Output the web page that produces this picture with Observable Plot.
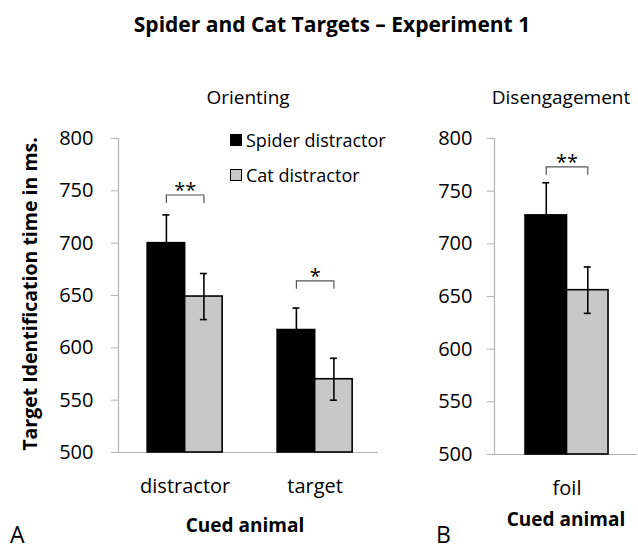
<!DOCTYPE html>
<html><head><meta charset="utf-8">
<script src="https://cdn.jsdelivr.net/npm/d3@7"></script>
<script src="https://cdn.jsdelivr.net/npm/@observablehq/plot@0.6"></script>
<style>
body{margin:0;background:#fff;}
#chart{position:relative;width:638px;height:551px;font-family:"Open Sans",sans-serif;color:#000;overflow:hidden;background:#fff;}
.t{position:absolute;white-space:nowrap;line-height:1;}
.p{position:absolute;}
.sw{position:absolute;width:10px;height:10px;border:1px solid #000;}
</style></head><body><div id="chart"></div>
<script>
// ---- data ----
const yTicks = [500, 550, 600, 650, 700, 750, 800];
const seriesNames = ["Spider distractor", "Cat distractor"];

const orientCues = ["distractor", "target"];
const orientSpider = [700, 617];
const orientSpiderSE = [27, 21];
const orientCat = [649, 570];
const orientCatSE = [22, 20];
const orientStars = ["**", "*"];
const orientBracket = [746, 664];
const orientBracketTip = [738, 656];

const disCues = ["foil"];
const disSpider = [727];
const disSpiderSE = [31];
const disCat = [656];
const disCatSE = [22];
const disStars = ["**"];
const disBracket = [773];
const disBracketTip = [765];

// ---- drawing ----
const axisGray = "#b4b4b4";
const chart = document.getElementById("chart");

function panel(o) {
  const rows = o.cues.map((c, i) => ({
    cue: c, spider: o.spider[i], spiderSE: o.spiderSE[i], cat: o.cat[i], catSE: o.catSE[i],
    stars: o.stars[i], bracket: o.bracket[i], tip: o.tip[i]
  }));
  const xOpts = {type: "band", domain: o.cues, paddingInner: o.pi, paddingOuter: o.po, align: o.align, round: false};
  const bw = Plot.scale({x: {...xOpts, range: [o.marginLeft, o.width - o.marginRight]}}).bandwidth;
  const q = bw / 4, cap = 3.5;
  const base = yTicks[0];
  const ink = {stroke: "#000", strokeWidth: 1.6};
  return Plot.plot({
    width: o.width, height: o.height,
    marginTop: o.marginTop, marginBottom: o.marginBottom, marginLeft: o.marginLeft, marginRight: o.marginRight,
    style: {fontFamily: "Open Sans", color: "#000", background: "none", overflow: "visible"},
    x: {...xOpts, label: null},
    y: {domain: [yTicks[0], yTicks[yTicks.length - 1]], label: null},
    marks: [
      Plot.ruleY([base], {stroke: axisGray, strokeWidth: 1.2}),
      Plot.frame({anchor: "left", stroke: axisGray, strokeWidth: 1.2}),
      Plot.barY(rows, {x: "cue", y1: base, y2: "spider", insetRight: bw / 2, fill: "#000", ...ink}),
      Plot.barY(rows, {x: "cue", y1: base, y2: "cat", insetLeft: bw / 2, fill: "#c8c8c8", ...ink}),
      // error bars
      Plot.ruleX(rows, {x: "cue", y1: d => d.spider - d.spiderSE, y2: d => d.spider + d.spiderSE, dx: -q, ...ink}),
      Plot.ruleX(rows, {x: "cue", y1: d => d.cat - d.catSE, y2: d => d.cat + d.catSE, dx: q, ...ink}),
      Plot.tickY(rows, {x: "cue", y: d => d.spider + d.spiderSE, insetLeft: q - cap, insetRight: 3 * q - cap, ...ink}),
      Plot.tickY(rows, {x: "cue", y: d => d.spider - d.spiderSE, insetLeft: q - cap, insetRight: 3 * q - cap, ...ink}),
      Plot.tickY(rows, {x: "cue", y: d => d.cat + d.catSE, insetLeft: 3 * q - cap, insetRight: q - cap, ...ink}),
      Plot.tickY(rows, {x: "cue", y: d => d.cat - d.catSE, insetLeft: 3 * q - cap, insetRight: q - cap, ...ink}),
      // significance brackets
      Plot.tickY(rows, {x: "cue", y: "bracket", insetLeft: q, insetRight: q, stroke: "#555", strokeWidth: 1.2}),
      Plot.ruleX(rows, {x: "cue", y1: "bracket", y2: "tip", dx: -q, stroke: "#555", strokeWidth: 1.2}),
      Plot.ruleX(rows, {x: "cue", y1: "bracket", y2: "tip", dx: q, stroke: "#555", strokeWidth: 1.2}),
      Plot.text(rows, {x: "cue", y: "bracket", text: "stars", dy: -4, fontSize: 20, fill: "#000"}),
      // axes
      Plot.axisY(yTicks, {tickSize: 7, tickPadding: o.tickPad, stroke: axisGray, fill: "#000", fontSize: 20, label: null}),
      Plot.axisX({tickSize: 0, tickPadding: 26, fontSize: 20, fill: "#000", label: null})
    ]
  });
}

function place(el, left, top) {
  el.classList.add("p");
  el.style.left = left + "px";
  el.style.top = top + "px";
  chart.appendChild(el);
}

function text(str, x, baseline, size, weight, anchor) {
  const d = document.createElement("div");
  d.className = "t";
  d.textContent = str;
  d.style.fontSize = size + "px";
  d.style.fontWeight = weight;
  d.style.top = (baseline - 0.888 * size) + "px";
  d.style.left = x + "px";
  if (anchor === "middle") d.style.transform = "translateX(-50%)";
  chart.appendChild(d);
  return d;
}

place(panel({
  cues: orientCues, spider: orientSpider, spiderSE: orientSpiderSE, cat: orientCat, catSE: orientCatSE,
  stars: orientStars, bracket: orientBracket, tip: orientBracketTip,
  width: 390, height: 402, marginTop: 28, marginBottom: 60, marginLeft: 118, marginRight: 12,
  pi: 0.423, po: 0.2115, align: 0.53, tickPad: 18
}), 0, 110);

place(panel({
  cues: disCues, spider: disSpider, spiderSE: disSpiderSE, cat: disCat, catSE: disCatSE,
  stars: disStars, bracket: disBracket, tip: disBracketTip,
  width: 248, height: 404, marginTop: 28, marginBottom: 60, marginLeft: 104, marginRight: 1,
  pi: 0, po: 0.3614, align: 0.517, tickPad: 15
}), 390, 110);

// titles and labels
text("Spider and Cat Targets \u2013 Experiment 1", 332, 33, 21, 700, "middle");
text("Orienting", 248, 105, 19, 400, "middle");
text("Disengagement", 561, 105, 19, 400, "middle");
text("Cued animal", 245, 533, 19, 700, "middle");
text("Cued animal", 566, 527, 19, 700, "middle");
text("A", 10, 543, 23, 400, "left");
text("B", 436, 543, 23, 400, "left");

const yl = document.createElement("div");
yl.className = "t";
yl.textContent = "Target Identification time in ms.";
yl.style.fontSize = "19.5px";
yl.style.fontWeight = 700;
yl.style.left = "30px";
yl.style.top = "294px";
yl.style.transform = "translate(-50%,-50%) rotate(-90deg)";
chart.appendChild(yl);

// legend
const legendFills = ["#000", "#c8c8c8"];
const legendBaselines = [147, 182];
seriesNames.forEach((name, i) => {
  const s = document.createElement("div");
  s.className = "sw";
  s.style.background = legendFills[i];
  s.style.left = "230px";
  s.style.top = (legendBaselines[i] - 13) + "px";
  chart.appendChild(s);
  text(name, 246, legendBaselines[i], 18, 400, "left");
});
</script></body></html>
